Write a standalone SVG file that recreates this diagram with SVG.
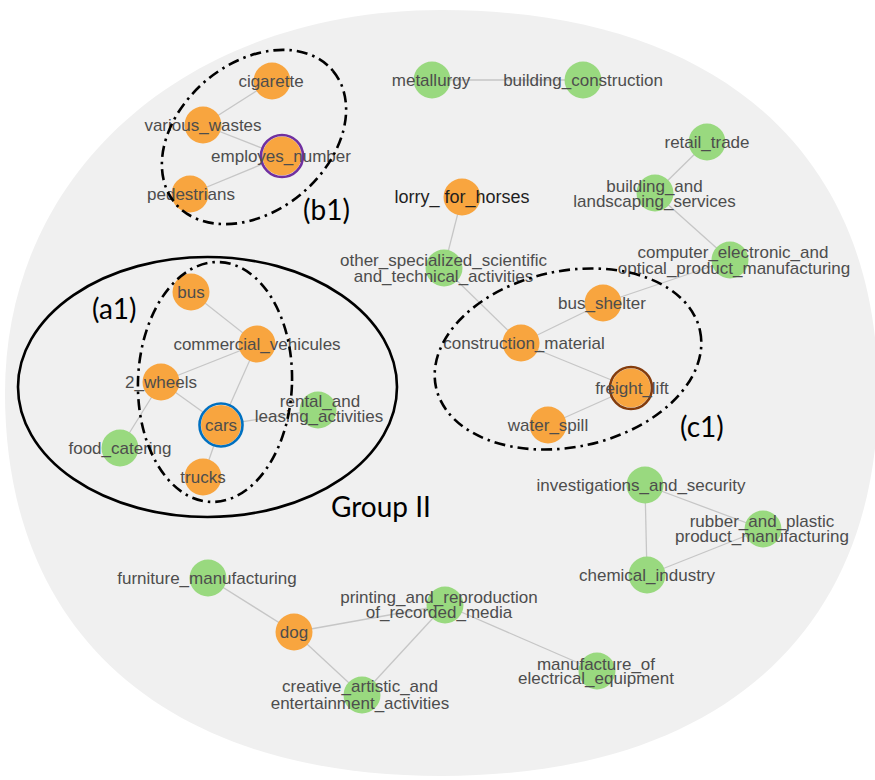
<svg xmlns="http://www.w3.org/2000/svg" width="875" height="780" viewBox="0 0 875 780">
<style>
.bg{fill:#f0f0f0}
.e{stroke:#c6c6c6;stroke-width:1.3;fill:none}
.o{fill:#f8a53f}
.g{fill:#99d97f}
.t{font-family:"Liberation Sans",Arial,sans-serif;font-size:17px;fill:#4d4d4d;text-anchor:middle}
.dk{fill:#1f1f1f;font-size:18px}
.ring{fill:none;stroke-width:2.6}
.dd{fill:none;stroke:#000;stroke-width:2.6;stroke-dasharray:11 5 2.5 5}
.solid{fill:none;stroke:#000;stroke-width:2.6}
.ann{font-family:Lato,"Open Sans","Liberation Sans",sans-serif;font-size:28px;fill:#000}
</style>
<rect width="875" height="780" fill="#fff"/>
<path class="bg" d="M5,393 C5,171 188,10 441.5,10 C716.5,10 878,152 878,393 C878,634 716.5,776 441.5,776 C166.5,776 5,634 5,393 Z"/>
<g id="connectors">
<line class="e" x1="272" y1="81" x2="203" y2="125"/>
<line class="e" x1="203" y1="125" x2="282" y2="156"/>
<line class="e" x1="282" y1="156" x2="190" y2="194"/>
<line class="e" x1="432" y1="80" x2="583" y2="80"/>
<line class="e" x1="462" y1="197" x2="444" y2="268"/>
<line class="e" x1="444" y1="268" x2="521" y2="343"/>
<line class="e" x1="707" y1="142" x2="655" y2="193"/>
<line class="e" x1="655" y1="193" x2="730" y2="260"/>
<line class="e" x1="730" y1="260" x2="603" y2="303"/>
<line class="e" x1="521" y1="343" x2="603" y2="303"/>
<line class="e" x1="521" y1="343" x2="631" y2="388"/>
<line class="e" x1="631" y1="388" x2="548" y2="425"/>
<line class="e" x1="191" y1="292" x2="257" y2="344"/>
<line class="e" x1="257" y1="344" x2="161" y2="382"/>
<line class="e" x1="257" y1="344" x2="221" y2="425"/>
<line class="e" x1="161" y1="382" x2="221" y2="425"/>
<line class="e" x1="161" y1="382" x2="120" y2="448"/>
<line class="e" x1="221" y1="425" x2="318" y2="410"/>
<line class="e" x1="221" y1="425" x2="203" y2="477"/>
<line class="e" x1="645" y1="485" x2="763" y2="529"/>
<line class="e" x1="645" y1="485" x2="647" y2="575"/>
<line class="e" x1="647" y1="575" x2="763" y2="529"/>
<line class="e" x1="208" y1="578" x2="294" y2="632"/>
<line class="e" x1="294" y1="632" x2="445" y2="605"/>
<line class="e" x1="294" y1="632" x2="362" y2="695"/>
<line class="e" x1="445" y1="605" x2="362" y2="695"/>
<line class="e" x1="445" y1="605" x2="597" y2="671"/>
</g>
<g id="cigarette"><circle class="o" cx="272" cy="81" r="18.5"/><text class="t" x="271" y="87">cigarette</text></g>
<g id="various_wastes"><circle class="o" cx="203" cy="125" r="18.5"/><text class="t" x="203" y="131">various_wastes</text></g>
<g id="employes_number"><circle class="o" cx="282" cy="156" r="19.5"/><circle class="ring" stroke="#7030a0" cx="282" cy="156" r="21"/><text class="t" x="281" y="162">employes_number</text></g>
<g id="pedestrians"><circle class="o" cx="190" cy="194" r="18.5"/><text class="t" x="191" y="200">pedestrians</text></g>
<g id="metallurgy"><circle class="g" cx="432" cy="80" r="18.5"/><text class="t" x="431" y="86">metallurgy</text></g>
<g id="building_construction"><circle class="g" cx="583" cy="80" r="18.5"/><text class="t" x="583" y="86">building_construction</text></g>
<g id="lorry_for_horses"><circle class="o" cx="462" cy="197" r="18.5"/><text class="t dk" x="462" y="203">lorry_ for_horses</text></g>
<g id="other_specialized_scientific_and_technical_activities"><circle class="g" cx="444" cy="268" r="18.5"/><text class="t" x="443.5" y="266">other_specialized_scientific</text><text class="t" x="443.5" y="281.5">and_technical_activities</text></g>
<g id="retail_trade"><circle class="g" cx="707" cy="142" r="18.5"/><text class="t" x="707" y="148">retail_trade</text></g>
<g id="building_and_landscaping_services"><circle class="g" cx="655" cy="193" r="18.5"/><text class="t" x="654.5" y="191.5">building_and</text><text class="t" x="654.5" y="206.5">landscaping_services</text></g>
<g id="computer_electronic_and_optical_product_manufacturing"><circle class="g" cx="730" cy="260" r="18.5"/><text class="t" x="733" y="258">computer_electronic_and</text><text class="t" x="734" y="274">optical_product_manufacturing</text></g>
<g id="bus_shelter"><circle class="o" cx="603" cy="303" r="18.5"/><text class="t" x="602" y="309">bus_shelter</text></g>
<g id="construction_material"><circle class="o" cx="521" cy="343" r="18.5"/><text class="t" x="524" y="349">construction_material</text></g>
<g id="freight_lift"><circle class="o" cx="631" cy="388" r="19.5"/><circle class="ring" stroke="#843c0c" cx="631" cy="388" r="21"/><text class="t" x="632" y="394">freight_lift</text></g>
<g id="water_spill"><circle class="o" cx="548" cy="425" r="18.5"/><text class="t" x="548" y="431">water_spill</text></g>
<g id="bus"><circle class="o" cx="191" cy="292" r="18.5"/><text class="t" x="191" y="298">bus</text></g>
<g id="commercial_vehicules"><circle class="o" cx="257" cy="344" r="18.5"/><text class="t" x="257" y="350">commercial_vehicules</text></g>
<g id="wheels_2"><circle class="o" cx="161" cy="382" r="18.5"/><text class="t" x="161" y="388">2_wheels</text></g>
<g id="cars"><circle class="o" cx="221" cy="425" r="20"/><circle class="ring" stroke="#0070c0" cx="221" cy="425" r="21.5"/><text class="t" x="221" y="431">cars</text></g>
<g id="food_catering"><circle class="g" cx="120" cy="448" r="18.5"/><text class="t" x="120" y="454">food_catering</text></g>
<g id="trucks"><circle class="o" cx="203" cy="477" r="18.5"/><text class="t" x="203" y="483">trucks</text></g>
<g id="rental_and_leasing_activities"><circle class="g" cx="318" cy="410" r="18.5"/><text class="t" x="320" y="407">rental_and</text><text class="t" x="319" y="422">leasing_activities</text></g>
<g id="investigations_and_security"><circle class="g" cx="645" cy="485" r="18.5"/><text class="t" x="641" y="491">investigations_and_security</text></g>
<g id="rubber_and_plastic_product_manufacturing"><circle class="g" cx="763" cy="529" r="18.5"/><text class="t" x="762" y="527">rubber_and_plastic</text><text class="t" x="762" y="542">product_manufacturing</text></g>
<g id="chemical_industry"><circle class="g" cx="647" cy="575" r="18.5"/><text class="t" x="647" y="581">chemical_industry</text></g>
<g id="furniture_manufacturing"><circle class="g" cx="208" cy="578" r="18.5"/><text class="t" x="207" y="584">furniture_manufacturing</text></g>
<g id="dog"><circle class="o" cx="294" cy="632" r="18.5"/><text class="t" x="294" y="638">dog</text></g>
<g id="printing_and_reproduction_of_recorded_media"><circle class="g" cx="445" cy="605" r="18.5"/><text class="t" x="439" y="603">printing_and_reproduction</text><text class="t" x="439" y="618">of_recorded_media</text></g>
<g id="creative_artistic_and_entertainment_activities"><circle class="g" cx="362" cy="695" r="18.5"/><text class="t" x="360" y="692">creative_artistic_and</text><text class="t" x="360" y="709">entertainment_activities</text></g>
<g id="manufacture_of_electrical_equipment"><circle class="g" cx="597" cy="671" r="18.5"/><text class="t" x="596" y="670">manufacture_of</text><text class="t" x="596" y="684">electrical_equipment</text></g>
<g id="annotations">
<ellipse class="solid" cx="207.5" cy="387" rx="189.5" ry="130"/>
<ellipse class="dd" cx="215" cy="382" rx="77" ry="120" transform="rotate(2 215 382)"/>
<ellipse class="dd" cx="254" cy="137" rx="103" ry="74" transform="rotate(-40 254 137)"/>
<ellipse class="dd" cx="568" cy="359" rx="135" ry="88" transform="rotate(-12 568 359)"/>
<text class="ann" x="92" y="319">(a1)</text>
<text class="ann" x="303" y="220">(b1)</text>
<text class="ann" x="680" y="437">(c1)</text>
<text class="ann" x="331" y="517">Group II</text>
</g>
</svg>
